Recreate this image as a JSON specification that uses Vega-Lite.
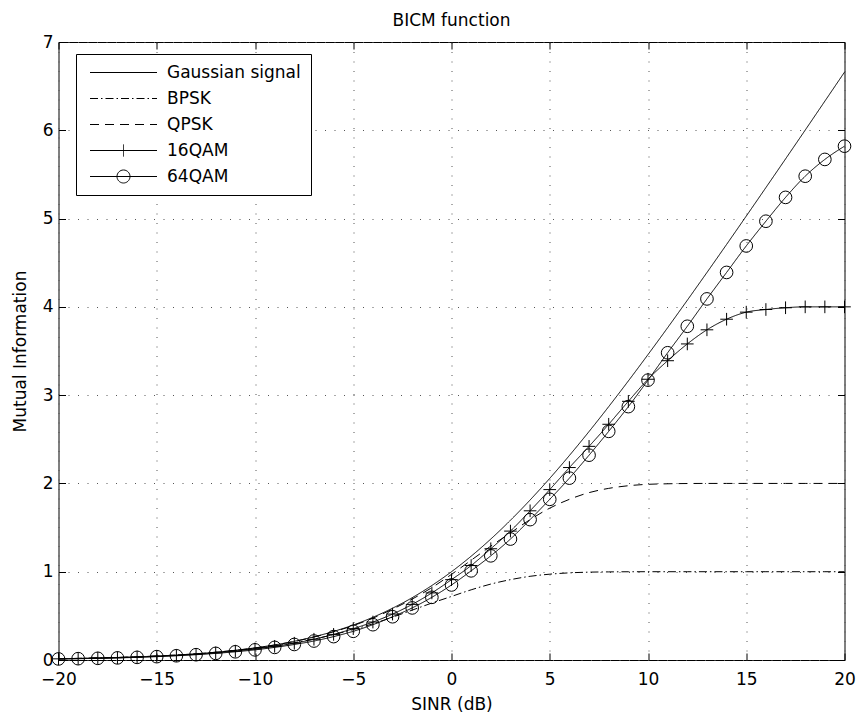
{
  "$schema": "https://vega.github.io/schema/vega-lite/v6.json",
  "width": 786,
  "height": 618,
  "autosize": "none",
  "padding": {"left": 58.5, "top": 42, "right": 15.5, "bottom": 63},
  "background": "white",
  "title": {"text": "BICM function", "font": "DejaVu Sans", "fontSize": 17, "fontWeight": "normal", "color": "black", "frame": "group", "anchor": "middle", "baseline": "alphabetic", "offset": -10},
  "data": {"values": [
    {"s":"Gaussian signal","x":-20,"y":0.0144},{"s":"Gaussian signal","x":-19,"y":0.0180},{"s":"Gaussian signal","x":-18,"y":0.0227},{"s":"Gaussian signal","x":-17,"y":0.0285},{"s":"Gaussian signal","x":-16,"y":0.0358},{"s":"Gaussian signal","x":-15,"y":0.0449},{"s":"Gaussian signal","x":-14,"y":0.0563},{"s":"Gaussian signal","x":-13,"y":0.0705},{"s":"Gaussian signal","x":-12,"y":0.0883},{"s":"Gaussian signal","x":-11,"y":0.1103},{"s":"Gaussian signal","x":-10,"y":0.1375},{"s":"Gaussian signal","x":-9,"y":0.1710},{"s":"Gaussian signal","x":-8,"y":0.2123},{"s":"Gaussian signal","x":-7,"y":0.2626},{"s":"Gaussian signal","x":-6,"y":0.3233},{"s":"Gaussian signal","x":-5,"y":0.3959},{"s":"Gaussian signal","x":-4,"y":0.4837},{"s":"Gaussian signal","x":-3,"y":0.5866},{"s":"Gaussian signal","x":-2,"y":0.7059},{"s":"Gaussian signal","x":-1,"y":0.8437},{"s":"Gaussian signal","x":0,"y":1.0},{"s":"Gaussian signal","x":1,"y":1.1757},{"s":"Gaussian signal","x":2,"y":1.3701},{"s":"Gaussian signal","x":3,"y":1.5827},{"s":"Gaussian signal","x":4,"y":1.8123},{"s":"Gaussian signal","x":5,"y":2.0574},{"s":"Gaussian signal","x":6,"y":2.3165},{"s":"Gaussian signal","x":7,"y":2.5879},{"s":"Gaussian signal","x":8,"y":2.8699},{"s":"Gaussian signal","x":9,"y":3.1608},{"s":"Gaussian signal","x":10,"y":3.4594},{"s":"Gaussian signal","x":11,"y":3.7641},{"s":"Gaussian signal","x":12,"y":4.0747},{"s":"Gaussian signal","x":13,"y":4.3891},{"s":"Gaussian signal","x":14,"y":4.7070},{"s":"Gaussian signal","x":15,"y":5.0279},{"s":"Gaussian signal","x":16,"y":5.3509},{"s":"Gaussian signal","x":17,"y":5.6757},{"s":"Gaussian signal","x":18,"y":6.0019},{"s":"Gaussian signal","x":19,"y":6.3298},{"s":"Gaussian signal","x":20,"y":6.6582},
    {"s":"BPSK","x":-20,"y":0.0143},{"s":"BPSK","x":-19,"y":0.0179},{"s":"BPSK","x":-18,"y":0.0225},{"s":"BPSK","x":-17,"y":0.0283},{"s":"BPSK","x":-16,"y":0.0354},{"s":"BPSK","x":-15,"y":0.0443},{"s":"BPSK","x":-14,"y":0.0553},{"s":"BPSK","x":-13,"y":0.069},{"s":"BPSK","x":-12,"y":0.086},{"s":"BPSK","x":-11,"y":0.107},{"s":"BPSK","x":-10,"y":0.131},{"s":"BPSK","x":-9,"y":0.160},{"s":"BPSK","x":-8,"y":0.195},{"s":"BPSK","x":-7,"y":0.237},{"s":"BPSK","x":-6,"y":0.288},{"s":"BPSK","x":-5,"y":0.345},{"s":"BPSK","x":-4,"y":0.41},{"s":"BPSK","x":-3,"y":0.485},{"s":"BPSK","x":-2,"y":0.565},{"s":"BPSK","x":-1,"y":0.645},{"s":"BPSK","x":0,"y":0.72},{"s":"BPSK","x":1,"y":0.795},{"s":"BPSK","x":2,"y":0.86},{"s":"BPSK","x":3,"y":0.91},{"s":"BPSK","x":4,"y":0.948},{"s":"BPSK","x":5,"y":0.972},{"s":"BPSK","x":6,"y":0.987},{"s":"BPSK","x":7,"y":0.995},{"s":"BPSK","x":8,"y":0.998},{"s":"BPSK","x":9,"y":0.9995},{"s":"BPSK","x":10,"y":1},{"s":"BPSK","x":11,"y":1},{"s":"BPSK","x":12,"y":1},{"s":"BPSK","x":13,"y":1},{"s":"BPSK","x":14,"y":1},{"s":"BPSK","x":15,"y":1},{"s":"BPSK","x":16,"y":1},{"s":"BPSK","x":17,"y":1},{"s":"BPSK","x":18,"y":1},{"s":"BPSK","x":19,"y":1},{"s":"BPSK","x":20,"y":1},
    {"s":"QPSK","x":-20,"y":0.0143},{"s":"QPSK","x":-19,"y":0.0179},{"s":"QPSK","x":-18,"y":0.0226},{"s":"QPSK","x":-17,"y":0.0284},{"s":"QPSK","x":-16,"y":0.0356},{"s":"QPSK","x":-15,"y":0.0446},{"s":"QPSK","x":-14,"y":0.0559},{"s":"QPSK","x":-13,"y":0.070},{"s":"QPSK","x":-12,"y":0.0877},{"s":"QPSK","x":-11,"y":0.109},{"s":"QPSK","x":-10,"y":0.136},{"s":"QPSK","x":-9,"y":0.169},{"s":"QPSK","x":-8,"y":0.210},{"s":"QPSK","x":-7,"y":0.260},{"s":"QPSK","x":-6,"y":0.320},{"s":"QPSK","x":-5,"y":0.390},{"s":"QPSK","x":-4,"y":0.474},{"s":"QPSK","x":-3,"y":0.576},{"s":"QPSK","x":-2,"y":0.69},{"s":"QPSK","x":-1,"y":0.82},{"s":"QPSK","x":0,"y":0.97},{"s":"QPSK","x":1,"y":1.13},{"s":"QPSK","x":2,"y":1.29},{"s":"QPSK","x":3,"y":1.44},{"s":"QPSK","x":4,"y":1.59},{"s":"QPSK","x":5,"y":1.72},{"s":"QPSK","x":6,"y":1.82},{"s":"QPSK","x":7,"y":1.896},{"s":"QPSK","x":8,"y":1.944},{"s":"QPSK","x":9,"y":1.974},{"s":"QPSK","x":10,"y":1.99},{"s":"QPSK","x":11,"y":1.996},{"s":"QPSK","x":12,"y":1.999},{"s":"QPSK","x":13,"y":2},{"s":"QPSK","x":14,"y":2},{"s":"QPSK","x":15,"y":2},{"s":"QPSK","x":16,"y":2},{"s":"QPSK","x":17,"y":2},{"s":"QPSK","x":18,"y":2},{"s":"QPSK","x":19,"y":2},{"s":"QPSK","x":20,"y":2},
    {"s":"16QAM","x":-20,"y":0.013},{"s":"16QAM","x":-19,"y":0.016},{"s":"16QAM","x":-18,"y":0.021},{"s":"16QAM","x":-17,"y":0.026},{"s":"16QAM","x":-16,"y":0.033},{"s":"16QAM","x":-15,"y":0.041},{"s":"16QAM","x":-14,"y":0.051},{"s":"16QAM","x":-13,"y":0.064},{"s":"16QAM","x":-12,"y":0.080},{"s":"16QAM","x":-11,"y":0.100},{"s":"16QAM","x":-10,"y":0.125},{"s":"16QAM","x":-9,"y":0.155},{"s":"16QAM","x":-8,"y":0.19},{"s":"16QAM","x":-7,"y":0.235},{"s":"16QAM","x":-6,"y":0.29},{"s":"16QAM","x":-5,"y":0.355},{"s":"16QAM","x":-4,"y":0.43},{"s":"16QAM","x":-3,"y":0.52},{"s":"16QAM","x":-2,"y":0.63},{"s":"16QAM","x":-1,"y":0.76},{"s":"16QAM","x":0,"y":0.91},{"s":"16QAM","x":1,"y":1.07},{"s":"16QAM","x":2,"y":1.26},{"s":"16QAM","x":3,"y":1.46},{"s":"16QAM","x":4,"y":1.69},{"s":"16QAM","x":5,"y":1.93},{"s":"16QAM","x":6,"y":2.18},{"s":"16QAM","x":7,"y":2.42},{"s":"16QAM","x":8,"y":2.67},{"s":"16QAM","x":9,"y":2.93},{"s":"16QAM","x":10,"y":3.18},{"s":"16QAM","x":11,"y":3.39},{"s":"16QAM","x":12,"y":3.58},{"s":"16QAM","x":13,"y":3.74},{"s":"16QAM","x":14,"y":3.86},{"s":"16QAM","x":15,"y":3.94},{"s":"16QAM","x":16,"y":3.97},{"s":"16QAM","x":17,"y":3.99},{"s":"16QAM","x":18,"y":4.0},{"s":"16QAM","x":19,"y":4.0},{"s":"16QAM","x":20,"y":4.0},
    {"s":"64QAM","x":-20,"y":0.012},{"s":"64QAM","x":-19,"y":0.015},{"s":"64QAM","x":-18,"y":0.019},{"s":"64QAM","x":-17,"y":0.024},{"s":"64QAM","x":-16,"y":0.030},{"s":"64QAM","x":-15,"y":0.038},{"s":"64QAM","x":-14,"y":0.048},{"s":"64QAM","x":-13,"y":0.060},{"s":"64QAM","x":-12,"y":0.075},{"s":"64QAM","x":-11,"y":0.093},{"s":"64QAM","x":-10,"y":0.115},{"s":"64QAM","x":-9,"y":0.143},{"s":"64QAM","x":-8,"y":0.176},{"s":"64QAM","x":-7,"y":0.215},{"s":"64QAM","x":-6,"y":0.265},{"s":"64QAM","x":-5,"y":0.325},{"s":"64QAM","x":-4,"y":0.40},{"s":"64QAM","x":-3,"y":0.49},{"s":"64QAM","x":-2,"y":0.59},{"s":"64QAM","x":-1,"y":0.71},{"s":"64QAM","x":0,"y":0.85},{"s":"64QAM","x":1,"y":1.01},{"s":"64QAM","x":2,"y":1.18},{"s":"64QAM","x":3,"y":1.37},{"s":"64QAM","x":4,"y":1.59},{"s":"64QAM","x":5,"y":1.82},{"s":"64QAM","x":6,"y":2.06},{"s":"64QAM","x":7,"y":2.32},{"s":"64QAM","x":8,"y":2.59},{"s":"64QAM","x":9,"y":2.87},{"s":"64QAM","x":10,"y":3.17},{"s":"64QAM","x":11,"y":3.48},{"s":"64QAM","x":12,"y":3.78},{"s":"64QAM","x":13,"y":4.09},{"s":"64QAM","x":14,"y":4.39},{"s":"64QAM","x":15,"y":4.69},{"s":"64QAM","x":16,"y":4.97},{"s":"64QAM","x":17,"y":5.24},{"s":"64QAM","x":18,"y":5.48},{"s":"64QAM","x":19,"y":5.67},{"s":"64QAM","x":20,"y":5.82}
  ]},
  "layer": [
    {
      "mark": {"type": "line", "interpolate": "monotone", "color": "black", "strokeWidth": 1},
      "encoding": {
        "x": {"field": "x", "type": "quantitative", "scale": {"domain": [-20, 20], "nice": false, "zero": false},
          "axis": {"orient": "bottom", "values": [-20,-15,-10,-5,0,5,10,15,20], "title": "SINR (dB)", "titleY": 49, "titleBaseline": "alphabetic", "labelPadding": 18, "grid": true}},
        "y": {"field": "y", "type": "quantitative", "scale": {"domain": [0, 7], "nice": false, "zero": false},
          "axis": {"orient": "left", "values": [0,1,2,3,4,5,6,7], "title": "Mutual Information", "titleX": -33, "titleBaseline": "alphabetic", "labelPadding": 12.5, "grid": true}},
        "strokeDash": {"field": "s", "type": "nominal",
          "scale": {"domain": ["Gaussian signal","BPSK","QPSK","16QAM","64QAM"], "range": [[1,0],[8,3,1.5,3],[9,6],[1,0],[1,0]]},
          "legend": {"title": null, "orient": "none", "legendX": 17.5, "legendY": 12, "padding": 10,
            "strokeColor": "black", "fillColor": "white", "cornerRadius": 0,
            "symbolSize": 100, "symbolOffset": 29, "labelOffset": 35, "rowPadding": 8,
            "labelFont": "DejaVu Sans", "labelFontSize": 17, "labelColor": "black", "labelLimit": 400,
            "symbolStrokeColor": "black", "symbolStrokeWidth": 1,
            "encode": {"symbols": {"update": {
              "shape": {"signal": "datum.value === '16QAM' ? 'M-6.7,0H6.7M0,-1.2V1.2' : (datum.value === '64QAM' ? 'M-6.7,0H6.7M-1.3,0A1.3,1.3,0,1,0,1.3,0A1.3,1.3,0,1,0,-1.3,0' : 'M-6.7,0H6.7')"},
              "fill": {"value": "transparent"},
              "stroke": {"value": "black"},
              "strokeWidth": {"value": 1}
            }}}
          }}
      }
    },
    {
      "transform": [{"filter": {"field": "s", "oneOf": ["16QAM", "64QAM"]}}],
      "mark": {"type": "point", "filled": false, "color": "black", "strokeWidth": 1, "size": 160, "opacity": 1},
      "encoding": {
        "x": {"field": "x", "type": "quantitative", "scale": {"domain": [-20, 20], "nice": false, "zero": false},
          "axis": {"orient": "top", "values": [-20,-15,-10,-5,0,5,10,15,20], "labels": false, "title": null, "grid": false}},
        "y": {"field": "y", "type": "quantitative", "scale": {"domain": [0, 7], "nice": false, "zero": false},
          "axis": {"orient": "right", "values": [0,1,2,3,4,5,6,7], "labels": false, "title": null, "grid": false}},
        "shape": {"field": "s", "type": "nominal",
          "scale": {"domain": ["16QAM", "64QAM"], "range": ["M-1,0H1M0,-1V1", "circle"]},
          "legend": null}
      }
    }
  ],
  "resolve": {"axis": {"x": "independent", "y": "independent"}},
  "config": {
    "view": {"stroke": "black", "strokeWidth": 1},
    "axis": {
      "domain": false,
      "tickSize": -7, "tickColor": "black", "tickWidth": 1,
      "labelFont": "DejaVu Sans", "labelFontSize": 17, "labelColor": "black",
      "titleFont": "DejaVu Sans", "titleFontSize": 17, "titleFontWeight": "normal", "titleColor": "black",
      "gridColor": "#555", "gridDash": [1, 8.5], "gridWidth": 1, "gridOpacity": 1,
      "labelFlush": false, "labelOverlap": false
    }
  }
}
